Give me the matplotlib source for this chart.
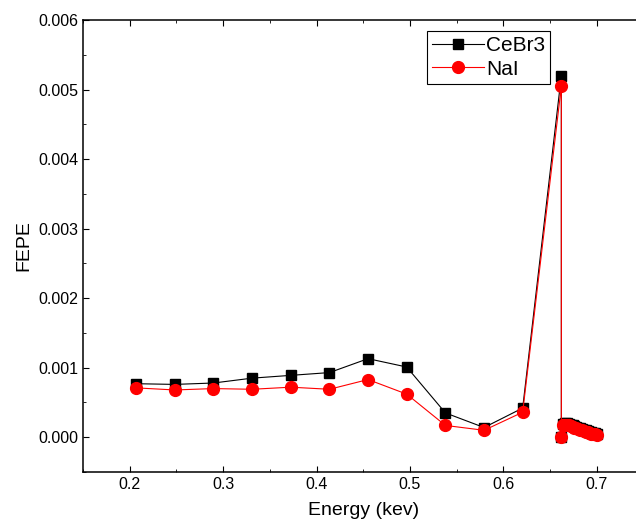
import matplotlib
matplotlib.use("Agg")
import matplotlib.pyplot as plt
from matplotlib.ticker import MultipleLocator

plt.rcParams['font.family'] = ['Liberation Sans', 'DejaVu Sans']

# energy points (keV)
energy = [0.2069, 0.2483, 0.2896, 0.3310, 0.3724, 0.4138, 0.4551, 0.4965,
          0.5379, 0.5793, 0.6206, 0.6620, 0.6620,
          0.664, 0.666, 0.668, 0.670, 0.672, 0.674, 0.676, 0.678, 0.680,
          0.682, 0.684, 0.686, 0.688, 0.690, 0.692, 0.694, 0.696, 0.698, 0.700]

cebr3 = [0.00077, 0.00076, 0.00078, 0.00085, 0.00089, 0.00093, 0.00113, 0.00101,
         0.00035, 0.00014, 0.00042, 0.00520, 0.00000,
         0.00019, 0.00020, 0.00020, 0.00019, 0.00018, 0.00017, 0.00016, 0.00015, 0.00014,
         0.00013, 0.00012, 0.00011, 0.00010, 0.00009, 0.00008, 0.00007, 0.00006, 0.00006, 0.00005]

nai = [0.00071, 0.00068, 0.00070, 0.00069, 0.00072, 0.00069, 0.00083, 0.00062,
       0.00017, 0.00010, 0.00036, 0.00505, 0.00000,
       0.00017, 0.00018, 0.00018, 0.00017, 0.00016, 0.00015, 0.00014, 0.00013, 0.00012,
       0.00011, 0.00010, 0.00009, 0.00008, 0.00007, 0.00006, 0.00005, 0.00004, 0.00004, 0.00003]

fig = plt.figure(figsize=(6.36, 5.21), dpi=100)
ax = fig.add_axes([0.1305, 0.094, 0.8814, 0.8676])

ax.plot(energy, cebr3, color='black', lw=0.8, marker='s', ms=7, label='CeBr3')
ax.plot(energy, nai, color='red', lw=0.8, marker='o', ms=8.5, label='NaI')

ax.set_xlim(0.15, 0.75)
ax.set_ylim(-0.0005, 0.006)
ax.xaxis.set_major_locator(MultipleLocator(0.1))
ax.xaxis.set_minor_locator(MultipleLocator(0.05))
ax.yaxis.set_major_locator(MultipleLocator(0.001))
ax.yaxis.set_minor_locator(MultipleLocator(0.0005))
ax.yaxis.set_major_formatter(matplotlib.ticker.FormatStrFormatter('%.3f'))
ax.tick_params(which='both', direction='in', top=True, labelsize=11.5)
ax.tick_params(which='major', length=4)
ax.tick_params(which='minor', length=2)
for s in ax.spines.values():
    s.set_linewidth(1.1)

ax.set_xlabel('Energy (kev)', fontsize=14, labelpad=7)
ax.set_ylabel('FEPE', fontsize=14)

leg = ax.legend(loc='upper left', bbox_to_anchor=(0.671, 0.940), bbox_transform=fig.transFigure,
                fontsize=15, fancybox=False, edgecolor='black', framealpha=1,
                handlelength=2.5, borderpad=0.25, labelspacing=0.2, handletextpad=0.1,
                borderaxespad=0)
leg.get_frame().set_linewidth(0.8)

fig.savefig('out.png', dpi=100)
